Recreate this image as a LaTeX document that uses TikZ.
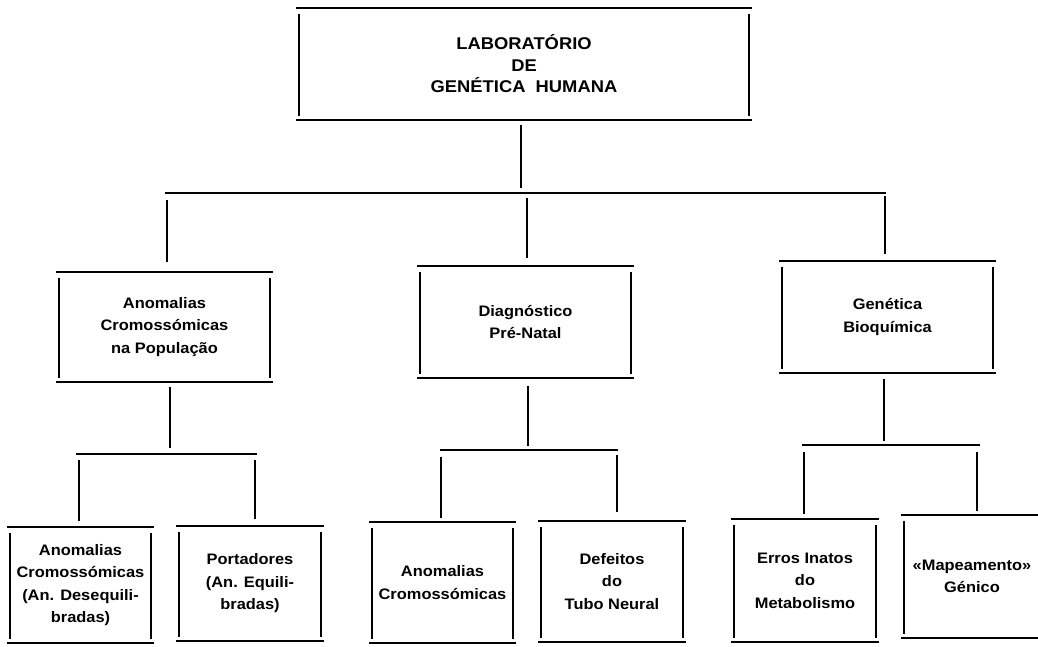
\documentclass[tikz,border=0pt]{standalone}
\usepackage{fontspec}
\newfontfamily\labfont[FakeStretch=1.08]{Liberation Sans}
\begin{document}
\begin{tikzpicture}[x=1pt,y=-1pt,
  line width=2.4pt, line cap=butt,
  unit/.style={inner sep=0pt, align=center,
    font=\labfont\bfseries\fontsize{15.2}{22.5}\selectfont},
  head/.style={inner sep=0pt, align=center,
    font=\labfont\bfseries\fontsize{17}{21.5}\selectfont},
]
\useasboundingbox (0,0) rectangle (1038,646);

% open-cornered frame: full top and bottom rules, inset uprights
\newcommand\openframe[1]{%
  \draw (#1.north west) -- (#1.north east);
  \draw (#1.south west) -- (#1.south east);
  \draw ([xshift=3pt,yshift=-6pt]#1.north west) -- ([xshift=3pt,yshift=4pt]#1.south west);}
\newcommand\rightside[1]{%
  \draw ([xshift=-3pt,yshift=-6pt]#1.north east) -- ([xshift=-3pt,yshift=4pt]#1.south east);}

% ---- boxes ----
\node[head, minimum width=454pt, minimum height=110pt] (lab) at (524,64)
  {LABORAT\'ORIO\\DE\\GEN\'ETICA\ \ HUMANA};

\node[unit, minimum width=215pt, minimum height=108pt] (pop) at (164.5,327)
  {Anomalias\\Cromoss\'omicas\\na Popula\c{c}\~ao};
\node[unit, minimum width=215pt, minimum height=110pt] (pre) at (525.5,322)
  {Diagn\'ostico\\Pr\'e-Natal};
\node[unit, minimum width=215pt, minimum height=110pt] (bio) at (887.5,317)
  {Gen\'etica\\Bioqu\'imica};

\node[unit, minimum width=145pt, minimum height=114pt] (deseq) at (80.5,585)
  {Anomalias\\Cromoss\'omicas\\(An. Desequili-\\bradas)};
\node[unit, minimum width=146pt, minimum height=113pt] (port) at (250,583.5)
  {Portadores\\(An. Equili-\\bradas)};
\node[unit, minimum width=145pt, minimum height=119pt] (crom) at (442.5,582.5)
  {Anomalias\\Cromoss\'omicas};
\node[unit, minimum width=146pt, minimum height=119pt] (tubo) at (612,581.5)
  {Defeitos\\do\\Tubo Neural};
\node[unit, minimum width=146pt, minimum height=121pt] (erros) at (805,580.5)
  {Erros Inatos\\do\\Metabolismo};
\node[unit, minimum width=140pt, minimum height=121pt] (mapa) at (972,576.5)
  {\guillemotleft Mapeamento\guillemotright\\G\'enico};

\foreach \n in {lab,pop,pre,bio,deseq,port,crom,tubo,erros,mapa} {\openframe{\n}}
\foreach \n in {lab,pop,pre,bio,deseq,port,crom,tubo,erros} {\rightside{\n}}

% ---- first level of connectors ----
\coordinate (busA) at (524,193);
\draw ([xshift=-3pt,yshift=-5pt]lab.south) -- ([xshift=-3pt,yshift=5pt]lab.south |- busA);
\draw ([xshift=0.5pt]pop.north |- busA) -- ([xshift=-1.5pt]bio.north |- busA);
\draw ([xshift=2.5pt,yshift=-7pt]pop.north |- busA) -- ([xshift=2.5pt,yshift=10pt]pop.north);
\draw ([xshift=1.5pt,yshift=-5pt]pre.north |- busA) -- ([xshift=1.5pt,yshift=8pt]pre.north);
\draw ([xshift=-2.5pt,yshift=-3pt]bio.north |- busA) -- ([xshift=-2.5pt,yshift=7pt]bio.north);

% ---- second level: population branch ----
\coordinate (busP) at (164.5,454);
\draw ([xshift=5.5pt,yshift=-5pt]pop.south) -- ([xshift=5.5pt,yshift=6pt]pop.south |- busP);
\draw ([xshift=-4.5pt]deseq.north |- busP) -- ([xshift=7pt]port.north |- busP);
\draw ([xshift=-1.5pt,yshift=-6pt]deseq.north |- busP) -- ([xshift=-1.5pt,yshift=6pt]deseq.north);
\draw ([xshift=5pt,yshift=-6pt]port.north |- busP) -- ([xshift=5pt,yshift=7pt]port.north);

% ---- second level: prenatal branch ----
\coordinate (busD) at (525.5,450);
\draw ([xshift=2.5pt,yshift=-8pt]pre.south) -- ([xshift=2.5pt,yshift=4pt]pre.south |- busD);
\draw ([xshift=-2.5pt]crom.north |- busD) -- ([xshift=6pt]tubo.north |- busD);
\draw ([xshift=-1.5pt,yshift=-7pt]crom.north |- busD) -- ([xshift=-1.5pt,yshift=4pt]crom.north);
\draw ([xshift=5pt,yshift=-5pt]tubo.north |- busD) -- ([xshift=5pt,yshift=9pt]tubo.north);

% ---- second level: biochemistry branch ----
\coordinate (busG) at (887.5,445);
\draw ([xshift=-3.5pt,yshift=-6pt]bio.south) -- ([xshift=-3.5pt,yshift=4pt]bio.south |- busG);
\draw ([xshift=-3pt]erros.north |- busG) -- ([xshift=8pt]mapa.north |- busG);
\draw ([xshift=-1pt,yshift=-7pt]erros.north |- busG) -- ([xshift=-1pt,yshift=5pt]erros.north);
\draw ([xshift=5pt,yshift=-7pt]mapa.north |- busG) -- ([xshift=5pt,yshift=4pt]mapa.north);
\end{tikzpicture}
\end{document}
